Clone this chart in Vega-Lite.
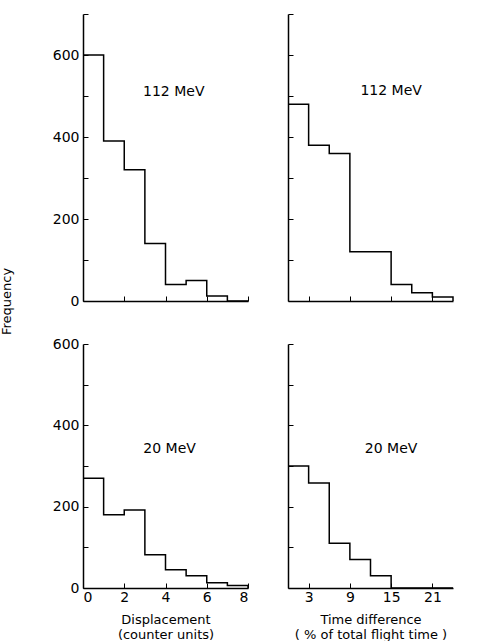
{
  "$schema": "https://vega.github.io/schema/vega-lite/v6.json",
  "padding": {"left": 0, "top": 13, "right": 0, "bottom": 0},
  "background": "white",
  "columns": 2,
  "bounds": "flush",
  "spacing": {"row": 43, "column": 40},
  "datasets": {
    "disp112": [
      {"start": 0, "count": 600}, {"start": 1, "count": 390}, {"start": 2, "count": 320},
      {"start": 3, "count": 140}, {"start": 4, "count": 40}, {"start": 5, "count": 50},
      {"start": 6, "count": 12}, {"start": 7, "count": 0}, {"start": 8, "count": 0}
    ],
    "time112": [
      {"start": 0, "count": 480}, {"start": 3, "count": 380}, {"start": 6, "count": 360},
      {"start": 9, "count": 120}, {"start": 15, "count": 40}, {"start": 18, "count": 20},
      {"start": 21, "count": 10}, {"start": 24, "count": 0}
    ],
    "disp20": [
      {"start": 0, "count": 270}, {"start": 1, "count": 180}, {"start": 2, "count": 192},
      {"start": 3, "count": 82}, {"start": 4, "count": 45}, {"start": 5, "count": 30},
      {"start": 6, "count": 13}, {"start": 7, "count": 6}, {"start": 8, "count": 0}
    ],
    "time20": [
      {"start": 0, "count": 300}, {"start": 3, "count": 258}, {"start": 6, "count": 110},
      {"start": 9, "count": 70}, {"start": 12, "count": 30}, {"start": 15, "count": 0},
      {"start": 24, "count": 0}
    ]
  },
  "concat": [
    {
      "width": 165, "height": 287,
      "layer": [
        {
          "data": {"name": "disp112"},
          "mark": {"type": "line", "interpolate": "step-after", "color": "black", "strokeWidth": 1.5},
          "encoding": {
            "x": {"field": "start", "type": "quantitative", "scale": {"domain": [0, 8], "nice": false},
                  "axis": {"title": null, "labels": false, "values": [0, 2, 4, 6, 8]}},
            "y": {"field": "count", "type": "quantitative", "scale": {"domain": [0, 700], "nice": false},
                  "axis": {"title": "Frequency", "titleX": -70, "titleY": 287, "titleAnchor": null,
                           "values": [0, 100, 200, 300, 400, 500, 600, 700],
                           "labelExpr": "datum.value % 200 == 0 ? datum.label : ''", "labelPadding": 9}}
          }
        },
        {
          "data": {"values": [{"energy": "112 MeV"}]},
          "mark": {"type": "text", "font": "DejaVu Sans", "fontSize": 14, "color": "black", "align": "center", "baseline": "middle"},
          "encoding": {"x": {"datum": 4.4}, "y": {"datum": 510}, "text": {"field": "energy"}}
        }
      ]
    },
    {
      "width": 165, "height": 287,
      "layer": [
        {
          "data": {"name": "time112"},
          "mark": {"type": "line", "interpolate": "step-after", "color": "black", "strokeWidth": 1.5},
          "encoding": {
            "x": {"field": "start", "type": "quantitative", "scale": {"domain": [0, 24], "nice": false},
                  "axis": {"title": null, "labels": false, "values": [3, 9, 15, 21]}},
            "y": {"field": "count", "type": "quantitative", "scale": {"domain": [0, 700], "nice": false},
                  "axis": {"title": null, "labels": false, "values": [0, 100, 200, 300, 400, 500, 600, 700]}}
          }
        },
        {
          "data": {"values": [{"energy": "112 MeV"}]},
          "mark": {"type": "text", "font": "DejaVu Sans", "fontSize": 14, "color": "black", "align": "center", "baseline": "middle"},
          "encoding": {"x": {"datum": 15}, "y": {"datum": 512}, "text": {"field": "energy"}}
        }
      ]
    },
    {
      "width": 165, "height": 244,
      "layer": [
        {
          "data": {"name": "disp20"},
          "mark": {"type": "line", "interpolate": "step-after", "color": "black", "strokeWidth": 1.5},
          "encoding": {
            "x": {"field": "start", "type": "quantitative", "scale": {"domain": [0, 8], "nice": false},
                  "axis": {"title": ["Displacement", "(counter units)"], "titleLineHeight": 15, "titlePadding": 9,
                           "values": [0, 2, 4, 6, 8], "labelPadding": 7}},
            "y": {"field": "count", "type": "quantitative", "scale": {"domain": [0, 600], "nice": false},
                  "axis": {"title": null,
                           "values": [0, 100, 200, 300, 400, 500, 600],
                           "labelExpr": "datum.value % 200 == 0 ? datum.label : ''", "labelPadding": 9}}
          }
        },
        {
          "data": {"values": [{"energy": "20 MeV"}]},
          "mark": {"type": "text", "font": "DejaVu Sans", "fontSize": 14, "color": "black", "align": "center", "baseline": "middle"},
          "encoding": {"x": {"datum": 4.2}, "y": {"datum": 341}, "text": {"field": "energy"}}
        }
      ]
    },
    {
      "width": 165, "height": 244,
      "layer": [
        {
          "data": {"name": "time20"},
          "mark": {"type": "line", "interpolate": "step-after", "color": "black", "strokeWidth": 1.5},
          "encoding": {
            "x": {"field": "start", "type": "quantitative", "scale": {"domain": [0, 24], "nice": false},
                  "axis": {"title": ["Time difference", "( % of total flight time )"], "titleLineHeight": 15, "titlePadding": 9,
                           "values": [3, 9, 15, 21], "labelPadding": 7}},
            "y": {"field": "count", "type": "quantitative", "scale": {"domain": [0, 600], "nice": false},
                  "axis": {"title": null, "labels": false, "values": [0, 100, 200, 300, 400, 500, 600]}}
          }
        },
        {
          "data": {"values": [{"energy": "20 MeV"}]},
          "mark": {"type": "text", "font": "DejaVu Sans", "fontSize": 14, "color": "black", "align": "center", "baseline": "middle"},
          "encoding": {"x": {"datum": 15}, "y": {"datum": 341}, "text": {"field": "energy"}}
        }
      ]
    }
  ],
  "config": {
    "view": {"stroke": null},
    "axis": {
      "domainColor": "black", "domainWidth": 1.5,
      "tickColor": "black", "tickWidth": 1, "tickSize": -5,
      "labelFont": "DejaVu Sans", "labelFontSize": 14, "labelColor": "black",
      "titleFont": "DejaVu Sans", "titleFontSize": 13, "titleFontWeight": "normal", "titleColor": "black",
      "grid": false
    }
  }
}
